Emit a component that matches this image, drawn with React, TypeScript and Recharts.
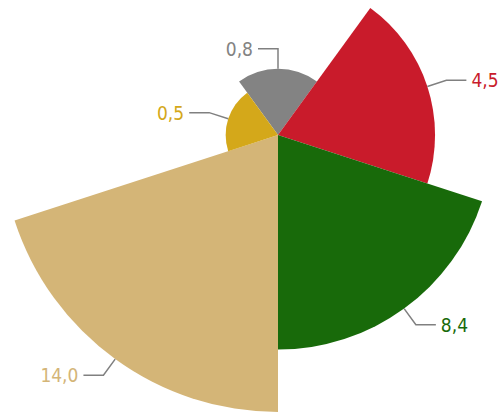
import { PieChart, Pie, Cell } from "recharts";

const categories = ["A", "B", "C", "D", "E"];
const values = [0.8, 4.5, 8.4, 14.0, 0.5];
const valueLabels = ["0,8", "4,5", "8,4", "14,0", "0,5"];
const colors = ["#838383", "#c91b2b", "#186a0a", "#d4b577", "#d4a81a"];

const MAX_R = 277;
const maxValue = Math.max(...values);
// area-proportional radius
const radiusOf = (v: number) => MAX_R * Math.sqrt(v / maxValue);

const RAD = Math.PI / 180;

const data = categories.map((name, i) => ({ name, value: values[i], share: 1 }));

function makeLabel(slice: number) {
  return (props: any) => {
    const { cx, cy, midAngle, outerRadius, index } = props;
    if (index !== slice) return null;
    const cos = Math.cos(-midAngle * RAD);
    const sin = Math.sin(-midAngle * RAD);
    const x0 = cx + outerRadius * cos;
    const y0 = cy + outerRadius * sin;
    const x1 = cx + (outerRadius + 20) * cos;
    const y1 = cy + (outerRadius + 20) * sin;
    const right = cos > 0.01;
    const x2 = x1 + (right ? 20 : -20);
    return (
      <g>
        <polyline
          points={`${x0},${y0} ${x1},${y1} ${x2},${y1}`}
          fill="none"
          stroke="#808080"
          strokeWidth={1.5}
        />
        <text
          x={x2 + (right ? 5 : -5)}
          y={y1}
          textAnchor={right ? "start" : "end"}
          dominantBaseline="central"
          fill={colors[index]}
          fontSize={19}
          fontFamily="'DejaVu Sans Condensed', sans-serif"
          fontStretch="condensed"
        >
          {valueLabels[index]}
        </text>
      </g>
    );
  };
}

export default function App() {
  return (
    <div style={{ position: "fixed", left: 0, top: 0, background: "#fff" }}>
      <PieChart width={503} height={412} margin={{ top: 0, right: 0, bottom: 0, left: 0 }}>
        {values.map((v, i) => (
          <Pie
            key={i}
            data={data}
            dataKey="share"
            cx={278}
            cy={135}
            innerRadius={0}
            outerRadius={radiusOf(v)}
            startAngle={126}
            endAngle={-234}
            stroke="none"
            label={makeLabel(i)}
            labelLine={false}
            isAnimationActive={false}
          >
            {data.map((_, j) => (
              <Cell key={j} fill={j === i ? colors[j] : "none"} />
            ))}
          </Pie>
        ))}
      </PieChart>
    </div>
  );
}
